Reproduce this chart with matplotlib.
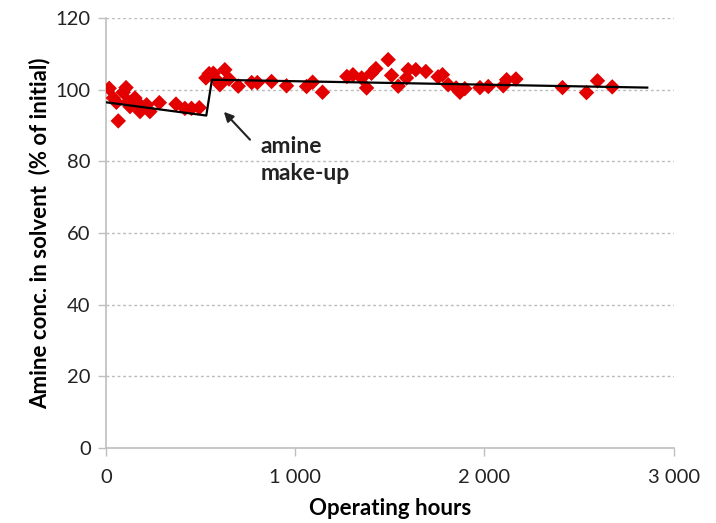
import matplotlib.pyplot as plt
from matplotlib.ticker import FuncFormatter

plt.rcParams['font.family'] = ['Lato', 'DejaVu Sans']

# measured points (operating hours, % of initial)
hours = [17, 39, 55, 65, 91, 106, 118, 127, 153, 165, 180, 215, 232, 282,
         370, 417, 452, 493,
         528, 545, 567, 580, 602, 628, 650, 699, 770, 800, 875, 954,
         1060, 1092, 1144, 1273, 1305, 1351, 1377, 1403, 1426, 1491, 1509,
         1544, 1588, 1597, 1637, 1690, 1755, 1778, 1808, 1850, 1870, 1896,
         1976, 2020, 2099, 2117, 2166, 2412, 2539, 2597, 2675]
conc = [100.4, 97.7, 96.5, 91.3, 99.3, 100.6, 96.7, 95.3, 97.7, 96.5, 93.9, 95.8, 93.9, 96.4,
        96.0, 94.8, 94.8, 95.0,
        103.3, 104.5, 104.6, 103.0, 101.4, 105.6, 103.0, 101.0, 102.0, 102.0, 102.3, 101.1,
        100.9, 102.1, 99.3, 103.7, 104.2, 103.3, 100.5, 104.6, 105.9, 108.4, 104.0,
        101.0, 103.3, 105.6, 105.6, 105.1, 103.6, 104.2, 101.4, 100.5, 99.3, 100.3,
        100.6, 100.9, 101.1, 102.8, 103.0, 100.6, 99.2, 102.5, 100.8]

# trend lines before / after make-up
trend_x = [0, 530, 560, 2860]
trend_y = [96.5, 92.8, 102.8, 100.6]

fig = plt.figure(figsize=(7.16, 5.23), dpi=100)
ax = fig.add_axes([0.148, 0.1434, 0.793, 0.822])

ax.scatter(hours, conc, marker='D', s=62, color='#E30000', edgecolors='none', zorder=3)
ax.plot(trend_x, trend_y, color='black', lw=1.6, zorder=4)

ax.set_xlim(0, 3000)
ax.set_ylim(0, 120)
ax.set_xticks([0, 1000, 2000, 3000])
ax.set_yticks(range(0, 121, 20))
ax.xaxis.set_major_formatter(FuncFormatter(lambda v, p: f"{int(v):,}".replace(',', ' ')))

ax.yaxis.grid(True, linestyle=(0, (2, 2)), color='#BBBBBB', lw=1)
ax.set_axisbelow(True)
for s in ['top', 'right']:
    ax.spines[s].set_visible(False)
for s in ['left', 'bottom']:
    ax.spines[s].set_color('#BFBFBF')
    ax.spines[s].set_linewidth(1.2)
ax.tick_params(axis='both', colors='#BFBFBF', labelcolor='#222222', labelsize=14.5, length=6, width=1)
ax.tick_params(axis='x', pad=9)
ax.tick_params(axis='y', pad=5)

ax.set_xlabel('Operating hours', fontsize=16, fontweight='bold', labelpad=9)
ax.set_ylabel('Amine conc. in solvent  (% of initial)', fontsize=16, fontweight='bold', labelpad=4)

ax.annotate('', xy=(613, 94.4), xytext=(771, 85.5),
            arrowprops=dict(arrowstyle='-|>', color='#222222', lw=1.5, mutation_scale=14))
ax.text(815, 80.5, 'amine\nmake-up', fontsize=16.5, fontweight='bold', ha='left', va='center',
        linespacing=1.35, color='#222222')

fig.savefig('out.png', dpi=100)
